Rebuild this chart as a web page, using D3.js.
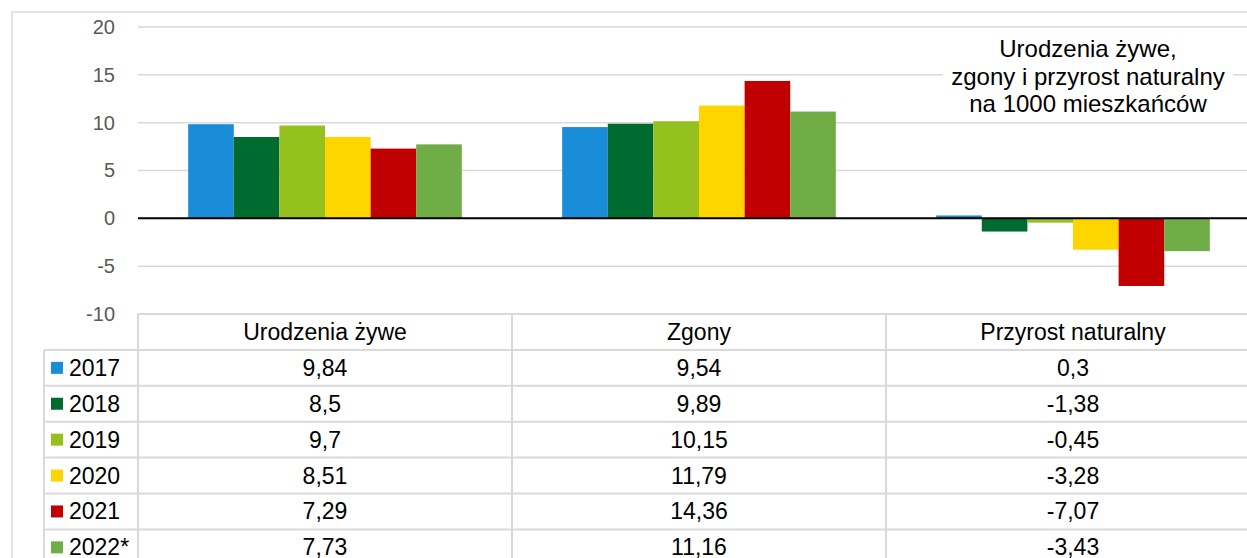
<!DOCTYPE html>
<html>
<head>
<meta charset="utf-8">
<script src="https://cdn.jsdelivr.net/npm/d3@7"></script>
<style>
  body { margin: 0; background: #fff; }
  text { font-family: "Liberation Sans", Arial, sans-serif; }
</style>
</head>
<body>
<div id="chart"></div>
<script>
const categories = ["Urodzenia żywe", "Zgony", "Przyrost naturalny"];
const years = ["2017", "2018", "2019", "2020", "2021", "2022*"];
const births = [9.84, 8.5, 9.7, 8.51, 7.29, 7.73];
const deaths = [9.54, 9.89, 10.15, 11.79, 14.36, 11.16];
const growth = [0.3, -1.38, -0.45, -3.28, -7.07, -3.43];
const yTicks = [-10, -5, 0, 5, 10, 15, 20];
const titleLines = ["Urodzenia żywe,", "zgony i przyrost naturalny", "na 1000 mieszkańców"];
const colors = ["#1a8dd8", "#006b2f", "#95c11f", "#ffd500", "#c00000", "#70ad47"];

const seriesByCat = [births, deaths, growth];
const fmt = (v) => String(v).replace(".", ",");

const W = 1247, H = 558;
const plotLeft = 138, plotRight = 1260;
const rowH = 35.9;
const tableTop = 314;
const legendLeft = 44;

const svg = d3.select("#chart").append("svg")
  .attr("width", W).attr("height", H);

// outer chart border
svg.append("path")
  .attr("d", `M12,${H} L12,12 L${W},12`)
  .attr("fill", "none").attr("stroke", "#d9d9d9").attr("stroke-width", 1.5);

const y = d3.scaleLinear().domain([-10, 20]).range([314, 27]);
const x0 = d3.scaleBand().domain(categories).range([plotLeft, plotRight]);
const x1 = d3.scaleBand().domain(years).range([0, x0.bandwidth()]).paddingOuter(1.1);
const color = d3.scaleOrdinal().domain(years).range(colors);

// gridlines
svg.append("g").selectAll("line")
  .data(yTicks.filter((t) => t !== 0 && t !== -10))
  .join("line")
  .attr("x1", plotLeft).attr("x2", W)
  .attr("y1", (d) => y(d)).attr("y2", (d) => y(d))
  .attr("stroke", "#d9d9d9").attr("stroke-width", 1.5);

// y axis labels
const yAxis = svg.append("g")
  .attr("transform", `translate(${plotLeft},0)`)
  .call(d3.axisLeft(y).tickValues(yTicks).tickSize(0).tickPadding(23).tickFormat((d) => d));
yAxis.select(".domain").remove();
yAxis.selectAll("text")
  .attr("fill", "#595959").style("font-size", "20px")
  .style("font-family", "'Liberation Sans', Arial, sans-serif");

// bars
const rows = [];
categories.forEach((c, ci) => {
  years.forEach((yr, yi) => rows.push({ cat: c, year: yr, value: seriesByCat[ci][yi] }));
});
svg.append("g").selectAll("rect")
  .data(rows)
  .join("rect")
  .attr("x", (d) => x0(d.cat) + x1(d.year))
  .attr("width", x1.bandwidth())
  .attr("y", (d) => y(Math.max(0, d.value)))
  .attr("height", (d) => Math.abs(y(d.value) - y(0)))
  .attr("fill", (d) => color(d.year));

// zero line
svg.append("line")
  .attr("x1", plotLeft).attr("x2", W)
  .attr("y1", y(0)).attr("y2", y(0))
  .attr("stroke", "#000").attr("stroke-width", 2);

// title box
svg.append("rect")
  .attr("x", 943).attr("y", 36).attr("width", 290).attr("height", 80)
  .attr("fill", "#fff");
svg.append("g").selectAll("text")
  .data(titleLines)
  .join("text")
  .attr("x", 1088)
  .attr("y", (d, i) => 57 + i * 27.5)
  .attr("text-anchor", "middle")
  .attr("fill", "#000")
  .style("font-size", "24px")
  .text((d) => d);

// data table
const table = svg.append("g");
const gridColor = "#d9d9d9";
const nRows = years.length;
// horizontal lines
table.append("line")
  .attr("x1", plotLeft).attr("x2", W)
  .attr("y1", tableTop).attr("y2", tableTop)
  .attr("stroke", gridColor).attr("stroke-width", 2);
for (let i = 1; i <= nRows + 1; i++) {
  table.append("line")
    .attr("x1", legendLeft).attr("x2", W)
    .attr("y1", tableTop + i * rowH).attr("y2", tableTop + i * rowH)
    .attr("stroke", gridColor).attr("stroke-width", 2);
}
// vertical lines
table.append("line")
  .attr("x1", legendLeft).attr("x2", legendLeft)
  .attr("y1", tableTop + rowH).attr("y2", H)
  .attr("stroke", gridColor).attr("stroke-width", 2);
categories.forEach((c) => {
  table.append("line")
    .attr("x1", x0(c)).attr("x2", x0(c))
    .attr("y1", tableTop).attr("y2", H)
    .attr("stroke", gridColor).attr("stroke-width", 2);
});

// header
table.selectAll("text.hdr")
  .data(categories)
  .join("text")
  .attr("class", "hdr")
  .attr("x", (d) => x0(d) + x0.bandwidth() / 2)
  .attr("y", tableTop + rowH / 2 + 8)
  .attr("text-anchor", "middle")
  .style("font-size", "23px")
  .text((d) => d);

// legend column
years.forEach((yr, i) => {
  const cy = tableTop + (i + 1.5) * rowH;
  table.append("rect")
    .attr("x", 51).attr("y", cy - 6).attr("width", 12).attr("height", 12)
    .attr("fill", color(yr));
  table.append("text")
    .attr("x", 69).attr("y", cy + 8)
    .style("font-size", "23px")
    .text(yr);
});

// values
table.selectAll("text.val")
  .data(rows)
  .join("text")
  .attr("class", "val")
  .attr("x", (d) => x0(d.cat) + x0.bandwidth() / 2)
  .attr("y", (d) => tableTop + (years.indexOf(d.year) + 1.5) * rowH + 8)
  .attr("text-anchor", "middle")
  .style("font-size", "23px")
  .text((d) => fmt(d.value));
</script>
</body>
</html>
